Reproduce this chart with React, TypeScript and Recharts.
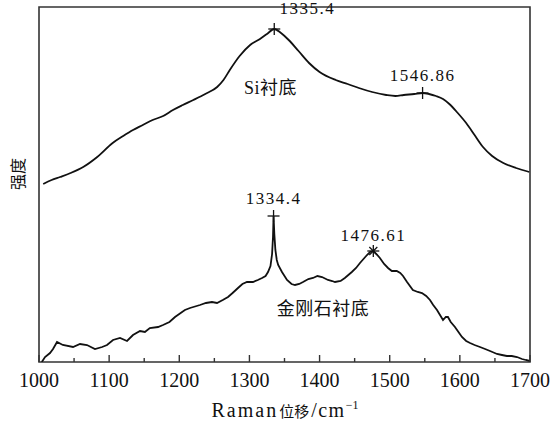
// Raman spectra of films grown on Si and on diamond substrates.
import { Line, LineChart, ReferenceArea, ReferenceDot, XAxis, YAxis } from 'recharts';

const INK = '#111111';
const FRAME = '#333333';
const SERIF = "'Liberation Serif', 'Times New Roman', 'DejaVu Serif', serif";
const CJK = "'Noto Sans CJK SC', 'Noto Sans CJK JP', sans-serif";

// Si substrate spectrum (Raman shift / cm-1, intensity a.u.)
const siShift = [
  1006, 1018, 1030, 1045, 1063, 1083, 1105, 1120, 1134, 1148, 1162, 1177, 1191, 1205, 1220, 1237,
  1254, 1263, 1272, 1286, 1301, 1315, 1325, 1335.4, 1345, 1356, 1370, 1385, 1400, 1423, 1440, 1456,
  1475, 1495, 1508, 1520, 1535, 1546.86, 1556, 1566, 1576, 1585, 1597, 1609, 1621, 1633, 1646, 1662,
  1680, 1699,
];
const siIntensity = [
  178, 182, 185, 189, 195, 205, 219, 226, 232, 237, 242, 246, 252, 257, 262, 268,
  275, 282, 292, 306, 317, 323, 328, 333, 329, 322, 311, 299, 290, 282, 278, 274,
  270, 267, 266, 267, 268, 269, 268, 266, 263, 258, 249, 239, 227, 215, 206, 199,
  194, 190,
];

// diamond substrate spectrum
const diamondShift = [
  1004, 1008.6, 1015.7, 1020, 1025.7, 1034, 1048.5, 1058.5, 1068.4, 1079.8, 1090, 1097, 1105.5,
  1115.5, 1125.5, 1134, 1144, 1151, 1158, 1169.7, 1176.8, 1186, 1193.9, 1208, 1215.3, 1229.5, 1238,
  1246.6, 1253.8, 1262, 1269.5, 1276, 1283.7, 1290, 1296.5, 1305, 1312, 1318, 1323, 1326.5, 1330,
  1332.3, 1333.6, 1334.4, 1335.5, 1337, 1339, 1341, 1346.4, 1353.6, 1360, 1365, 1371, 1376.4, 1384,
  1390.6, 1397, 1403.5, 1412, 1418, 1422, 1430, 1436, 1446, 1452, 1457.6, 1467.6, 1472, 1476.61,
  1481, 1486, 1492, 1497.6, 1503, 1510, 1515, 1519, 1524.7, 1533, 1540, 1546, 1552, 1557.4, 1562,
  1567.4, 1576, 1580, 1583, 1587, 1593, 1598, 1603, 1609, 1614.5, 1621, 1628.7, 1636, 1643, 1653,
  1660, 1667, 1674, 1681.5, 1688.6, 1694, 1700,
];
const diamondIntensity = [
  0, 5, 9, 13, 20, 17, 15, 18, 17, 13, 15, 17, 22,
  24, 21, 27, 31, 30, 34, 35, 37, 40, 45, 52, 54, 57, 59,
  60, 59, 62, 65, 69, 74, 78, 80, 80, 82, 84, 86, 90, 96,
  108, 125, 146, 128, 112, 102, 97, 90, 82, 78, 77, 78, 80, 83,
  84, 86, 85, 82, 81, 80, 81, 84, 90, 94, 99, 107, 110, 111,
  108, 104, 98, 94, 91, 91, 89, 86, 80, 72, 70, 69, 66, 62, 57,
  52, 42, 45, 45, 40, 35, 30, 25, 21, 19, 17, 15, 13, 11, 8,
  7, 6, 6, 5, 3, 2, 1,
];

const xTicks = [1000, 1050, 1100, 1150, 1200, 1250, 1300, 1350, 1400, 1450, 1500, 1550, 1600, 1650, 1700];

// marked peaks
const peakShift = [1335.4, 1546.86, 1334.4, 1476.61];
const peakIntensity = [333, 269, 146, 111];
const peakText = ['1335.4', '1546.86', '1334.4', '1476.61'];
const peakMark = ['plus', 'plus', 'plus', 'star'];
// label offset from the marker, px
const peakLabelOffset = [[33, -15], [0, -12], [0, -12], [0, -10]];

const curveNames = ['Si衬底', '金刚石衬底'];
const curveNameShift = [1330, 1405];
const curveNameIntensity = [268, 47];

const siData = siShift.map((x, i) => ({ x, y: siIntensity[i] }));
const diamondData = diamondShift.map((x, i) => ({ x, y: diamondIntensity[i] }));

function XTick({ x, y, payload }: any) {
  const v = payload.value as number;
  const major = v % 100 === 0;
  return (
    <g>
      <line x1={x} x2={x} y1={y} y2={y - (major ? 7 : 4)} stroke={FRAME} strokeWidth={1.4} />
      {major && (
        <text x={x} y={y + 25} textAnchor="middle" style={{ fontFamily: SERIF, fontSize: 20 }} fill={INK}>
          {v}
        </text>
      )}
    </g>
  );
}

function PeakMark({ cx, cy, i }: any) {
  const [dx, dy] = peakLabelOffset[i];
  const star = peakMark[i] === 'star';
  return (
    <g>
      <line x1={cx - 6} x2={cx + 6} y1={cy} y2={cy} stroke={INK} strokeWidth={1.3} />
      <line x1={cx} x2={cx} y1={cy - 6} y2={cy + 6} stroke={INK} strokeWidth={1.3} />
      {star && (
        <>
          <line x1={cx - 4} x2={cx + 4} y1={cy + 4} y2={cy - 4} stroke={INK} strokeWidth={1.2} />
          <line x1={cx - 4} x2={cx + 4} y1={cy - 4} y2={cy + 4} stroke={INK} strokeWidth={1.2} />
        </>
      )}
      <text
        x={cx + dx}
        y={cy + dy}
        textAnchor="middle"
        style={{ fontFamily: SERIF, fontSize: 17, letterSpacing: 1.5 }}
        fill={INK}
      >
        {peakText[i]}
      </text>
    </g>
  );
}

function CurveName({ cx, cy, i }: any) {
  const name = curveNames[i];
  const latin = name.startsWith('Si');
  return (
    <text x={cx} y={cy} textAnchor="middle" style={{ fontSize: 18, letterSpacing: 0.5 }} fill={INK}>
      {latin && <tspan style={{ fontFamily: SERIF }}>Si</tspan>}
      <tspan style={{ fontFamily: CJK }}>{latin ? name.slice(2) : name}</tspan>
    </text>
  );
}

export default function App() {
  return (
    <div style={{ position: 'absolute', left: 0, top: 0, width: 552, height: 426, background: '#fff' }}>
      <LineChart width={552} height={426} data={siData} margin={{ top: 7, right: 22, left: 0, bottom: 0 }}>
        <XAxis
          dataKey="x"
          type="number"
          domain={[1000, 1700]}
          ticks={xTicks}
          interval={0}
          allowDataOverflow
          axisLine={false}
          tickLine={false}
          tickSize={0}
          tickMargin={0}
          tick={<XTick />}
          height={64}
          label={{
            content: () => (
              <text x={285} y={417} textAnchor="middle" fill={INK}>
                <tspan style={{ fontFamily: SERIF, fontSize: 20, letterSpacing: 2 }}>Raman</tspan>
                <tspan style={{ fontFamily: CJK, fontSize: 15 }} dx={1}>位移</tspan>
                <tspan style={{ fontFamily: SERIF, fontSize: 20, letterSpacing: 1.5 }} dx={2}>/cm</tspan>
                <tspan style={{ fontFamily: SERIF, fontSize: 12 }} dy={-8}>−1</tspan>
              </text>
            ),
          }}
        />
        <YAxis
          type="number"
          domain={[0, 355]}
          allowDataOverflow
          width={39}
          tick={false}
          tickLine={false}
          axisLine={false}
          label={{
            content: () => (
              <text
                x={17}
                y={174}
                transform="rotate(-90 17 174)"
                textAnchor="middle"
                dominantBaseline="central"
                style={{ fontFamily: CJK, fontSize: 16 }}
                fill={INK}
              >
                强度
              </text>
            ),
          }}
        />
        <ReferenceArea x1={1000} x2={1700} y1={0} y2={355} fill="none" stroke={FRAME} strokeWidth={1.6} />
        <Line
          data={siData}
          dataKey="y"
          type="monotone"
          stroke={INK}
          strokeWidth={1.8}
          dot={false}
          isAnimationActive={false}
        />
        <Line
          data={diamondData}
          dataKey="y"
          type="linear"
          stroke={INK}
          strokeWidth={1.8}
          dot={false}
          isAnimationActive={false}
        />
        {peakShift.map((x, i) => (
          <ReferenceDot
            key={`p${i}`}
            x={x}
            y={peakIntensity[i]}
            r={6}
            shape={(p: any) => <PeakMark {...p} i={i} />}
          />
        ))}
        {curveNames.map((_, i) => (
          <ReferenceDot
            key={`n${i}`}
            x={curveNameShift[i]}
            y={curveNameIntensity[i]}
            r={1}
            shape={(p: any) => <CurveName {...p} i={i} />}
          />
        ))}
      </LineChart>
    </div>
  );
}
